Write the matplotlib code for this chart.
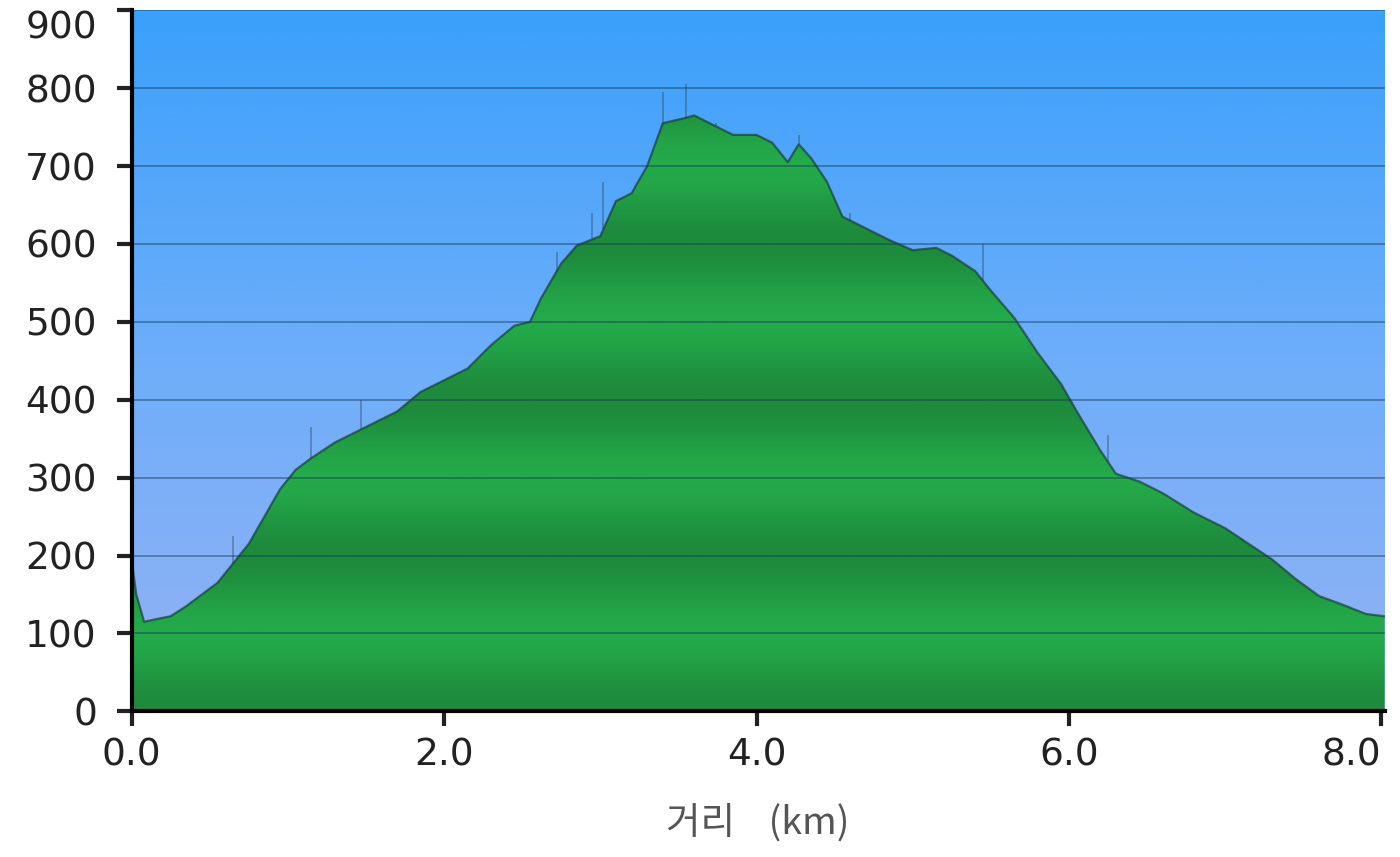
import numpy as np
import matplotlib
matplotlib.use("Agg")
import matplotlib.pyplot as plt
from matplotlib.colors import LinearSegmentedColormap

plt.rcParams['font.family'] = ['DejaVu Sans', 'Noto Sans CJK KR']

# distance (km) / elevation (m)
dist = [0.0, 0.03, 0.08, 0.15, 0.25, 0.35, 0.45, 0.55, 0.65, 0.75, 0.85, 0.95,
        1.05, 1.15, 1.3, 1.5, 1.7, 1.85, 2.0, 2.15, 2.3, 2.45, 2.55, 2.62,
        2.75, 2.85, 3.0, 3.1, 3.2, 3.3, 3.4, 3.55, 3.6, 3.75, 3.85, 4.0,
        4.1, 4.2, 4.27, 4.35, 4.45, 4.55, 4.7, 4.85, 5.0, 5.15, 5.25, 5.4,
        5.5, 5.65, 5.8, 5.95, 6.05, 6.2, 6.3, 6.45, 6.6, 6.8, 7.0, 7.15,
        7.3, 7.45, 7.6, 7.75, 7.9, 8.02]
elev = [195, 150, 115, 118, 122, 135, 150, 165, 190, 215, 250, 285,
        310, 325, 345, 365, 385, 410, 425, 440, 470, 495, 500, 530,
        575, 598, 610, 655, 665, 700, 755, 762, 765, 750, 740, 740,
        730, 705, 728, 710, 680, 635, 620, 605, 592, 595, 585, 565,
        540, 505, 460, 420, 385, 335, 305, 295, 280, 255, 235, 215,
        195, 170, 148, 137, 125, 122]

# small noise spikes in the track
spike_x = [0.65, 1.15, 1.47, 2.72, 2.95, 3.02, 3.4, 3.55, 3.74, 4.27, 4.6, 5.45, 6.25]
spike_top = [225, 365, 400, 590, 640, 680, 795, 805, 755, 740, 640, 600, 355]

yticks = [0, 100, 200, 300, 400, 500, 600, 700, 800, 900]
xticks = [0.0, 2.0, 4.0, 6.0, 8.0]
xmax = 8.02

fig = plt.figure(figsize=(14, 8.57), dpi=100)
ax = fig.add_axes([0.094, 0.170, 0.895, 0.818])
ax.set_xlim(0, xmax)
ax.set_ylim(0, 900)

# sky gradient
sky = LinearSegmentedColormap.from_list('sky', ['#94b2f4', '#6eaefa', '#3aa0fa'])
grad = np.linspace(0, 1, 256).reshape(-1, 1)
ax.imshow(grad, cmap=sky, origin='lower', aspect='auto',
          extent=[0, xmax, 0, 900], zorder=0)

# banded green fill
poly = ax.fill_between(dist, elev, 0, color='none', zorder=1)
yy = np.linspace(0, 900, 900)
band = 0.5 - 0.5 * np.cos(np.pi * yy / 100.0)
green = LinearSegmentedColormap.from_list('grn', ['#1e8a3c', '#24aa4a'])
im = ax.imshow(band.reshape(-1, 1), cmap=green, origin='lower', aspect='auto',
               extent=[0, xmax, 0, 900], zorder=1)
im.set_clip_path(poly.get_paths()[0], transform=ax.transData)

# spikes and outline
ax.vlines(spike_x, np.interp(spike_x, dist, elev), spike_top,
          color='#24475a', lw=1.2, alpha=0.45, zorder=2)
ax.plot(dist, elev, color='#1c3a4a', lw=1.6, alpha=0.7, zorder=2)

# grid
for y in yticks[1:]:
    ax.axhline(y, color='#163a5a', lw=1.4, alpha=0.45, zorder=3)

for s in ['top', 'right']:
    ax.spines[s].set_visible(False)
for s in ['left', 'bottom']:
    ax.spines[s].set_linewidth(3)
    ax.spines[s].set_zorder(4)

ax.set_yticks(yticks)
ax.set_xticks(xticks)
ax.set_xticklabels(['%.1f' % v for v in xticks])
ax.get_xticklabels()[-1].set_horizontalalignment('right')
ax.get_yticklabels()[-1].set_verticalalignment('top')
ax.tick_params(axis='both', length=11, width=3, labelsize=27, colors='#222222')
ax.tick_params(axis='y', pad=14)
ax.tick_params(axis='x', pad=8)
ax.set_xlabel('거리    (km)', fontsize=27, color='#555555', labelpad=22,
              family=['Noto Sans CJK KR', 'DejaVu Sans'])

fig.savefig('out.png', dpi=100)
